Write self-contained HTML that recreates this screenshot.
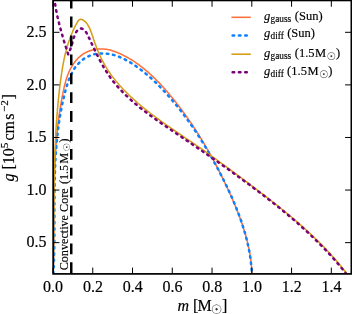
<!DOCTYPE html>
<html><head><meta charset="utf-8"><title>g vs m</title>
<style>html,body{margin:0;padding:0;background:#fff}body{width:352px;height:314px;overflow:hidden}</style></head>
<body>
<svg width="352" height="314" viewBox="0 0 352 314" style="display:block">
<rect width="352" height="314" fill="#fff"/>
<defs><clipPath id="ax"><rect x="53.15" y="0.45" width="298.20" height="273.45"/></clipPath></defs>
<g clip-path="url(#ax)" fill="none" stroke-linejoin="round">
<path d="M53.2 273.8 L53.2 272.5 L53.3 271.1 L53.3 269.8 L53.4 268.5 L53.4 267.1 L53.5 265.8 L53.5 264.4 L53.5 263.1 L53.6 261.8 L53.6 260.4 L53.6 259.1 L53.7 257.8 L53.7 256.4 L53.7 255.1 L53.7 253.8 L53.8 252.4 L53.8 251.1 L53.8 249.8 L53.8 248.4 L53.8 247.1 L53.9 245.8 L53.9 244.4 L53.9 243.1 L53.9 241.8 L53.9 240.4 L53.9 239.1 L53.9 237.8 L53.9 236.4 L53.9 235.1 L54.0 233.8 L54.0 232.5 L54.0 231.1 L54.0 229.8 L54.0 228.5 L54.0 227.1 L54.0 225.8 L54.0 224.5 L54.0 223.2 L54.0 221.8 L54.0 220.5 L54.0 219.2 L54.0 217.8 L54.0 216.5 L54.0 215.2 L54.0 213.9 L54.0 212.5 L54.0 211.2 L54.1 209.9 L54.1 208.6 L54.1 207.2 L54.1 205.9 L54.1 204.6 L54.1 203.3 L54.1 201.9 L54.1 200.6 L54.1 199.3 L54.1 198.0 L54.1 196.6 L54.2 195.3 L54.2 194.0 L54.2 192.7 L54.2 191.3 L54.2 190.0 L54.3 188.7 L54.3 187.4 L54.3 186.0 L54.3 184.7 L54.3 183.4 L54.4 182.1 L54.4 180.8 L54.4 179.4 L54.5 178.1 L54.5 176.8 L54.5 175.5 L54.6 174.1 L54.6 172.8 L54.7 171.5 L54.7 170.2 L54.7 168.9 L54.8 167.5 L54.8 166.2 L54.9 164.9 L55.0 163.6 L55.0 162.2 L55.1 160.9 L55.1 159.6 L55.2 158.3 L55.3 157.0 L55.3 155.6 L55.4 154.3 L55.5 153.0 L55.6 151.7 L55.7 150.4 L55.7 149.0 L55.8 147.7 L55.9 146.4 L56.0 145.1 L56.1 143.8 L56.2 142.4 L56.3 141.1 L56.4 139.8 L56.5 138.5 L56.7 137.1 L56.8 135.8 L56.9 134.5 L57.0 133.2 L57.2 131.9 L57.3 130.5 L57.4 129.2 L57.6 127.9 L57.7 126.6 L57.9 125.3 L58.0 123.9 L58.2 122.6 L58.3 121.3 L58.5 120.0 L58.7 118.7 L58.9 117.3 L59.0 116.0 L59.2 114.7 L59.4 113.4 L59.6 112.1 L59.8 110.7 L60.0 109.4 L60.2 108.1 L60.4 106.8 L60.6 105.5 L60.9 104.1 L61.1 102.8 L61.3 101.5 L61.6 100.2 L61.8 98.8 L62.1 97.5 L62.3 96.2 L62.6 94.9 L62.8 93.6 L63.1 92.2 L63.4 90.9 L63.7 89.6 L63.9 88.3 L64.2 87.0 L64.5 85.6 L64.9 84.3 L65.2 83.0 L65.6 81.7 L65.9 80.4 L66.3 79.1 L66.7 77.8 L67.2 76.6 L67.6 75.3 L68.1 74.1 L68.6 72.8 L69.1 71.6 L69.7 70.4 L70.3 69.1 L70.9 68.0 L71.6 66.8 L72.3 65.6 L73.0 64.5 L73.8 63.4 L74.6 62.3 L75.4 61.3 L76.2 60.3 L77.1 59.3 L78.0 58.3 L78.9 57.4 L79.9 56.6 L80.9 55.7 L81.9 55.0 L82.9 54.2 L84.0 53.5 L85.1 52.9 L86.3 52.3 L87.4 51.8 L88.6 51.3 L89.8 50.8 L91.0 50.4 L92.2 50.1 L93.5 49.8 L94.7 49.5 L96.0 49.3 L97.3 49.1 L98.6 49.0 L99.9 48.9 L101.2 48.9 L102.5 49.0 L103.8 49.0 L105.1 49.2 L106.4 49.3 L107.7 49.6 L108.9 49.8 L110.2 50.1 L111.5 50.5 L112.8 50.9 L114.1 51.3 L115.3 51.7 L116.6 52.2 L117.8 52.7 L119.1 53.2 L120.3 53.8 L121.5 54.4 L122.7 55.0 L123.9 55.6 L125.1 56.2 L126.3 56.8 L127.5 57.5 L128.7 58.1 L129.8 58.8 L131.0 59.5 L132.1 60.2 L133.2 60.9 L134.3 61.7 L135.4 62.4 L136.5 63.2 L137.6 63.9 L138.7 64.7 L139.8 65.5 L140.8 66.3 L141.9 67.1 L142.9 67.9 L144.0 68.8 L145.0 69.6 L146.0 70.5 L147.1 71.3 L148.1 72.2 L149.1 73.1 L150.0 74.0 L151.0 74.9 L152.0 75.8 L153.0 76.7 L153.9 77.6 L154.9 78.6 L155.9 79.5 L156.8 80.5 L157.7 81.4 L158.7 82.4 L159.6 83.3 L160.5 84.3 L161.4 85.3 L162.3 86.3 L163.2 87.3 L164.1 88.3 L165.0 89.3 L165.9 90.3 L166.8 91.3 L167.6 92.3 L168.5 93.3 L169.4 94.3 L170.2 95.4 L171.1 96.4 L171.9 97.4 L172.8 98.5 L173.6 99.5 L174.5 100.5 L175.3 101.6 L176.1 102.6 L176.9 103.7 L177.8 104.7 L178.6 105.8 L179.4 106.8 L180.2 107.9 L181.0 108.9 L181.8 110.0 L182.6 111.1 L183.3 112.1 L184.1 113.2 L184.9 114.3 L185.7 115.4 L186.5 116.4 L187.2 117.5 L188.0 118.6 L188.7 119.7 L189.5 120.8 L190.2 121.9 L191.0 123.0 L191.7 124.1 L192.5 125.1 L193.2 126.2 L193.9 127.4 L194.7 128.5 L195.4 129.6 L196.1 130.7 L196.8 131.8 L197.5 132.9 L198.2 134.0 L198.9 135.1 L199.6 136.3 L200.3 137.4 L201.0 138.5 L201.7 139.6 L202.4 140.8 L203.1 141.9 L203.8 143.0 L204.4 144.2 L205.1 145.3 L205.8 146.5 L206.4 147.6 L207.1 148.8 L207.8 149.9 L208.4 151.1 L209.1 152.2 L209.7 153.4 L210.4 154.5 L211.0 155.7 L211.6 156.8 L212.3 158.0 L212.9 159.2 L213.5 160.3 L214.2 161.5 L214.8 162.7 L215.4 163.8 L216.0 165.0 L216.6 166.2 L217.2 167.4 L217.9 168.5 L218.5 169.7 L219.1 170.9 L219.7 172.1 L220.3 173.3 L220.8 174.5 L221.4 175.7 L222.0 176.9 L222.6 178.1 L223.2 179.3 L223.8 180.4 L224.3 181.6 L224.9 182.8 L225.5 184.1 L226.1 185.3 L226.6 186.5 L227.2 187.7 L227.8 188.9 L228.3 190.1 L228.9 191.3 L229.4 192.5 L230.0 193.7 L230.5 195.0 L231.1 196.2 L231.6 197.4 L232.2 198.6 L232.7 199.8 L233.2 201.1 L233.7 202.3 L234.3 203.5 L234.8 204.8 L235.3 206.0 L235.8 207.2 L236.3 208.5 L236.8 209.7 L237.3 210.9 L237.8 212.2 L238.3 213.4 L238.8 214.7 L239.2 215.9 L239.7 217.2 L240.2 218.4 L240.6 219.7 L241.1 220.9 L241.5 222.2 L241.9 223.4 L242.4 224.7 L242.8 225.9 L243.2 227.2 L243.6 228.5 L244.0 229.7 L244.4 231.0 L244.8 232.3 L245.2 233.5 L245.5 234.8 L245.9 236.1 L246.2 237.4 L246.6 238.6 L246.9 239.9 L247.2 241.2 L247.5 242.5 L247.9 243.8 L248.1 245.1 L248.4 246.4 L248.7 247.6 L249.0 248.9 L249.2 250.2 L249.5 251.5 L249.7 252.8 L249.9 254.1 L250.1 255.4 L250.4 256.7 L250.5 258.1 L250.7 259.4 L250.9 260.7 L251.0 262.0 L251.2 263.3 L251.3 264.6 L251.4 265.9 L251.6 267.3 L251.6 268.6 L251.7 269.9 L251.8 271.2 L251.9 272.6 L251.9 273.9" stroke="#ff703c" stroke-width="1.55"/>
<path d="M53.4 273.8 L53.5 272.5 L53.5 271.2 L53.6 269.9 L53.7 268.5 L53.7 267.2 L53.8 265.9 L53.8 264.6 L53.9 263.3 L53.9 262.0 L54.0 260.6 L54.0 259.3 L54.0 258.0 L54.1 256.7 L54.1 255.4 L54.1 254.1 L54.2 252.8 L54.2 251.5 L54.2 250.1 L54.2 248.8 L54.3 247.5 L54.3 246.2 L54.3 244.9 L54.3 243.6 L54.3 242.3 L54.4 241.0 L54.4 239.7 L54.4 238.3 L54.4 237.0 L54.4 235.7 L54.4 234.4 L54.4 233.1 L54.4 231.8 L54.4 230.5 L54.4 229.2 L54.4 227.9 L54.4 226.6 L54.4 225.3 L54.4 224.0 L54.4 222.6 L54.4 221.3 L54.4 220.0 L54.4 218.7 L54.4 217.4 L54.4 216.1 L54.4 214.8 L54.4 213.5 L54.4 212.2 L54.4 210.9 L54.4 209.6 L54.4 208.3 L54.4 207.0 L54.4 205.7 L54.4 204.4 L54.4 203.1 L54.4 201.8 L54.5 200.5 L54.5 199.2 L54.5 197.8 L54.5 196.5 L54.5 195.2 L54.5 193.9 L54.5 192.6 L54.5 191.3 L54.5 190.0 L54.5 188.7 L54.6 187.4 L54.6 186.1 L54.6 184.8 L54.6 183.5 L54.6 182.2 L54.7 180.9 L54.7 179.6 L54.7 178.3 L54.8 177.0 L54.8 175.7 L54.8 174.4 L54.9 173.1 L54.9 171.8 L55.0 170.5 L55.0 169.2 L55.1 167.9 L55.1 166.6 L55.2 165.3 L55.2 164.0 L55.3 162.7 L55.3 161.4 L55.4 160.1 L55.5 158.8 L55.5 157.5 L55.6 156.2 L55.7 154.9 L55.8 153.6 L55.9 152.3 L56.0 151.0 L56.1 149.7 L56.2 148.4 L56.3 147.1 L56.4 145.8 L56.5 144.5 L56.6 143.2 L56.7 141.9 L56.8 140.6 L57.0 139.3 L57.1 138.0 L57.2 136.7 L57.4 135.4 L57.5 134.1 L57.7 132.8 L57.8 131.5 L58.0 130.2 L58.1 128.9 L58.3 127.6 L58.5 126.3 L58.6 125.1 L58.8 123.8 L59.0 122.5 L59.2 121.2 L59.4 119.9 L59.6 118.6 L59.8 117.3 L60.0 116.0 L60.3 114.7 L60.5 113.4 L60.7 112.1 L61.0 110.8 L61.2 109.5 L61.5 108.2 L61.7 106.9 L62.0 105.6 L62.2 104.3 L62.5 103.0 L62.8 101.7 L63.1 100.4 L63.4 99.1 L63.7 97.8 L64.0 96.5 L64.3 95.2 L64.6 93.9 L65.0 92.6 L65.3 91.3 L65.6 90.0 L66.0 88.7 L66.4 87.5 L66.7 86.2 L67.1 84.9 L67.5 83.6 L67.9 82.3 L68.4 81.1 L68.8 79.8 L69.3 78.6 L69.8 77.4 L70.3 76.2 L70.8 75.0 L71.4 73.8 L72.0 72.7 L72.6 71.5 L73.2 70.4 L73.9 69.3 L74.6 68.3 L75.3 67.2 L76.1 66.2 L76.9 65.2 L77.7 64.3 L78.6 63.4 L79.5 62.5 L80.4 61.6 L81.4 60.8 L82.3 60.0 L83.4 59.2 L84.4 58.5 L85.5 57.8 L86.6 57.2 L87.7 56.6 L88.9 56.1 L90.1 55.6 L91.3 55.2 L92.5 54.8 L93.7 54.4 L94.9 54.1 L96.2 53.9 L97.4 53.7 L98.7 53.6 L100.0 53.5 L101.3 53.4 L102.6 53.4 L103.9 53.4 L105.2 53.5 L106.5 53.6 L107.8 53.8 L109.1 54.0 L110.4 54.2 L111.7 54.5 L113.0 54.8 L114.3 55.1 L115.5 55.5 L116.8 55.9 L118.0 56.4 L119.3 56.8 L120.5 57.4 L121.7 57.9 L122.9 58.4 L124.1 59.0 L125.3 59.6 L126.4 60.3 L127.6 60.9 L128.7 61.6 L129.9 62.2 L131.0 62.9 L132.1 63.6 L133.2 64.4 L134.3 65.1 L135.4 65.8 L136.5 66.6 L137.6 67.3 L138.7 68.1 L139.7 68.9 L140.8 69.7 L141.8 70.5 L142.9 71.3 L143.9 72.1 L144.9 72.9 L145.9 73.8 L146.9 74.6 L147.9 75.5 L148.9 76.3 L149.9 77.2 L150.9 78.1 L151.9 78.9 L152.8 79.8 L153.8 80.7 L154.7 81.6 L155.7 82.5 L156.6 83.4 L157.5 84.4 L158.5 85.3 L159.4 86.2 L160.3 87.1 L161.2 88.1 L162.1 89.0 L163.0 90.0 L163.9 90.9 L164.8 91.9 L165.7 92.8 L166.6 93.8 L167.4 94.8 L168.3 95.8 L169.2 96.7 L170.0 97.7 L170.9 98.7 L171.7 99.7 L172.6 100.7 L173.4 101.7 L174.2 102.7 L175.1 103.7 L175.9 104.7 L176.7 105.7 L177.6 106.7 L178.4 107.7 L179.2 108.7 L180.0 109.8 L180.8 110.8 L181.6 111.8 L182.4 112.8 L183.2 113.9 L184.0 114.9 L184.7 116.0 L185.5 117.0 L186.3 118.1 L187.1 119.1 L187.8 120.2 L188.6 121.2 L189.3 122.3 L190.1 123.3 L190.8 124.4 L191.6 125.5 L192.3 126.5 L193.1 127.6 L193.8 128.7 L194.5 129.8 L195.3 130.9 L196.0 131.9 L196.7 133.0 L197.4 134.1 L198.1 135.2 L198.8 136.3 L199.5 137.4 L200.2 138.5 L200.9 139.6 L201.6 140.7 L202.3 141.8 L203.0 142.9 L203.7 144.1 L204.4 145.2 L205.0 146.3 L205.7 147.4 L206.4 148.5 L207.1 149.7 L207.7 150.8 L208.4 151.9 L209.0 153.0 L209.7 154.2 L210.4 155.3 L211.0 156.5 L211.7 157.6 L212.3 158.7 L212.9 159.9 L213.6 161.0 L214.2 162.2 L214.8 163.3 L215.5 164.5 L216.1 165.6 L216.7 166.8 L217.3 167.9 L218.0 169.1 L218.6 170.3 L219.2 171.4 L219.8 172.6 L220.4 173.7 L221.0 174.9 L221.6 176.1 L222.2 177.2 L222.8 178.4 L223.4 179.6 L224.0 180.8 L224.6 181.9 L225.2 183.1 L225.7 184.3 L226.3 185.5 L226.9 186.7 L227.5 187.8 L228.0 189.0 L228.6 190.2 L229.1 191.4 L229.7 192.6 L230.2 193.8 L230.8 195.0 L231.3 196.2 L231.8 197.4 L232.4 198.6 L232.9 199.8 L233.4 201.0 L233.9 202.2 L234.4 203.4 L234.9 204.6 L235.4 205.8 L235.9 207.0 L236.4 208.2 L236.9 209.5 L237.4 210.7 L237.9 211.9 L238.3 213.1 L238.8 214.3 L239.2 215.6 L239.7 216.8 L240.1 218.0 L240.6 219.2 L241.0 220.5 L241.4 221.7 L241.8 222.9 L242.2 224.2 L242.6 225.4 L243.0 226.7 L243.4 227.9 L243.8 229.2 L244.2 230.4 L244.5 231.6 L244.9 232.9 L245.2 234.1 L245.6 235.4 L245.9 236.7 L246.3 237.9 L246.6 239.2 L246.9 240.4 L247.2 241.7 L247.5 243.0 L247.8 244.2 L248.1 245.5 L248.3 246.8 L248.6 248.0 L248.8 249.3 L249.1 250.6 L249.3 251.9 L249.6 253.2 L249.8 254.4 L250.0 255.7 L250.2 257.0 L250.4 258.3 L250.6 259.6 L250.7 260.9 L250.9 262.2 L251.0 263.5 L251.2 264.8 L251.3 266.1 L251.4 267.4 L251.6 268.7 L251.7 270.0 L251.7 271.3 L251.8 272.6 L251.9 273.9" stroke="#0f80ff" stroke-width="2.5" stroke-linecap="round" stroke-dasharray="1.6 4.7"/>
<path d="M53.2 273.8 L53.2 272.2 L53.3 270.6 L53.3 269.0 L53.3 267.4 L53.3 265.8 L53.3 264.2 L53.4 262.6 L53.4 261.0 L53.4 259.4 L53.4 257.8 L53.4 256.2 L53.5 254.6 L53.5 253.0 L53.5 251.4 L53.5 249.8 L53.5 248.2 L53.5 246.7 L53.5 245.1 L53.6 243.5 L53.6 241.9 L53.6 240.3 L53.6 238.7 L53.6 237.1 L53.6 235.5 L53.6 233.9 L53.6 232.3 L53.6 230.7 L53.6 229.2 L53.6 227.6 L53.7 226.0 L53.7 224.4 L53.7 222.8 L53.7 221.2 L53.7 219.6 L53.7 218.0 L53.7 216.4 L53.7 214.9 L53.7 213.3 L53.7 211.7 L53.8 210.1 L53.8 208.5 L53.8 206.9 L53.8 205.3 L53.8 203.8 L53.8 202.2 L53.8 200.6 L53.9 199.0 L53.9 197.4 L53.9 195.8 L53.9 194.3 L53.9 192.7 L53.9 191.1 L54.0 189.5 L54.0 187.9 L54.0 186.3 L54.0 184.8 L54.1 183.2 L54.1 181.6 L54.1 180.0 L54.1 178.4 L54.2 176.8 L54.2 175.3 L54.2 173.7 L54.3 172.1 L54.3 170.5 L54.4 168.9 L54.4 167.4 L54.4 165.8 L54.5 164.2 L54.5 162.6 L54.6 161.0 L54.6 159.4 L54.7 157.9 L54.7 156.3 L54.8 154.7 L54.9 153.1 L54.9 151.5 L55.0 150.0 L55.0 148.4 L55.1 146.8 L55.2 145.2 L55.3 143.6 L55.3 142.0 L55.4 140.5 L55.5 138.9 L55.6 137.3 L55.7 135.7 L55.7 134.1 L55.8 132.5 L55.9 131.0 L56.0 129.4 L56.1 127.8 L56.2 126.2 L56.3 124.6 L56.4 123.0 L56.5 121.5 L56.7 119.9 L56.8 118.3 L56.9 116.7 L57.0 115.1 L57.1 113.5 L57.3 111.9 L57.4 110.4 L57.5 108.8 L57.7 107.2 L57.8 105.6 L58.0 104.0 L58.1 102.4 L58.3 100.8 L58.4 99.3 L58.6 97.7 L58.8 96.1 L58.9 94.5 L59.1 92.9 L59.3 91.3 L59.5 89.7 L59.6 88.1 L59.8 86.5 L60.0 84.9 L60.2 83.4 L60.4 81.8 L60.6 80.2 L60.9 78.6 L61.1 77.0 L61.3 75.4 L61.5 73.8 L61.8 72.2 L62.0 70.7 L62.3 69.1 L62.5 67.5 L62.8 65.9 L63.1 64.3 L63.4 62.8 L63.7 61.2 L64.0 59.6 L64.3 58.1 L64.7 56.5 L65.0 55.0 L65.4 53.4 L65.8 51.9 L66.2 50.4 L66.6 48.9 L67.0 47.3 L67.4 45.8 L67.9 44.3 L68.4 42.8 L68.9 41.3 L69.4 39.9 L69.9 38.4 L70.4 36.9 L71.0 35.5 L71.6 34.0 L72.2 32.6 L72.8 31.1 L73.5 29.7 L74.1 28.3 L74.8 26.9 L75.5 25.5 L76.3 24.2 L77.0 22.8 L77.8 21.5 L78.6 20.3 L79.6 19.5 L80.7 19.2 L81.9 19.5 L83.2 20.1 L84.5 21.1 L85.6 22.1 L86.7 23.3 L87.6 24.6 L88.4 26.0 L89.2 27.4 L89.9 28.9 L90.5 30.4 L91.1 32.0 L91.7 33.6 L92.2 35.2 L92.8 36.8 L93.3 38.4 L93.8 40.0 L94.4 41.6 L94.9 43.1 L95.5 44.6 L96.1 46.2 L96.6 47.7 L97.2 49.2 L97.8 50.7 L98.4 52.2 L99.1 53.6 L99.7 55.1 L100.4 56.5 L101.0 57.9 L101.7 59.3 L102.4 60.7 L103.2 62.1 L103.9 63.5 L104.7 64.9 L105.4 66.2 L106.3 67.6 L107.1 68.9 L107.9 70.2 L108.8 71.5 L109.7 72.8 L110.6 74.1 L111.5 75.4 L112.4 76.6 L113.4 77.9 L114.4 79.1 L115.4 80.4 L116.4 81.6 L117.4 82.8 L118.4 84.0 L119.5 85.2 L120.5 86.4 L121.6 87.5 L122.7 88.7 L123.8 89.9 L124.9 91.0 L126.0 92.1 L127.2 93.3 L128.3 94.4 L129.4 95.5 L130.6 96.6 L131.8 97.7 L133.0 98.7 L134.2 99.8 L135.4 100.9 L136.6 101.9 L137.8 103.0 L139.0 104.0 L140.2 105.0 L141.4 106.1 L142.7 107.1 L143.9 108.1 L145.1 109.1 L146.4 110.1 L147.6 111.1 L148.9 112.0 L150.1 113.0 L151.4 114.0 L152.7 115.0 L153.9 115.9 L155.2 116.9 L156.5 117.8 L157.8 118.7 L159.1 119.7 L160.3 120.6 L161.6 121.5 L162.9 122.5 L164.2 123.4 L165.5 124.3 L166.8 125.2 L168.1 126.1 L169.4 127.0 L170.7 127.9 L172.0 128.8 L173.3 129.7 L174.6 130.6 L175.9 131.5 L177.3 132.4 L178.6 133.3 L179.9 134.2 L181.2 135.1 L182.5 136.0 L183.8 136.9 L185.1 137.8 L186.4 138.7 L187.8 139.6 L189.1 140.4 L190.4 141.3 L191.7 142.2 L193.0 143.1 L194.3 144.0 L195.6 144.9 L196.9 145.8 L198.2 146.7 L199.6 147.6 L200.9 148.5 L202.2 149.4 L203.5 150.3 L204.8 151.2 L206.1 152.1 L207.4 153.1 L208.6 154.0 L209.9 154.9 L211.2 155.8 L212.5 156.7 L213.8 157.7 L215.1 158.6 L216.4 159.5 L217.7 160.5 L218.9 161.4 L220.2 162.3 L221.5 163.3 L222.8 164.2 L224.1 165.1 L225.3 166.1 L226.6 167.0 L227.9 168.0 L229.2 168.9 L230.5 169.9 L231.7 170.8 L233.0 171.8 L234.3 172.7 L235.6 173.7 L236.8 174.6 L238.1 175.6 L239.4 176.5 L240.7 177.5 L241.9 178.4 L243.2 179.4 L244.5 180.3 L245.8 181.3 L247.0 182.2 L248.3 183.2 L249.6 184.1 L250.8 185.1 L252.1 186.0 L253.4 187.0 L254.7 188.0 L255.9 188.9 L257.2 189.9 L258.5 190.8 L259.7 191.8 L261.0 192.8 L262.3 193.7 L263.5 194.7 L264.8 195.7 L266.1 196.6 L267.3 197.6 L268.6 198.6 L269.8 199.6 L271.1 200.5 L272.3 201.5 L273.6 202.5 L274.8 203.5 L276.1 204.5 L277.3 205.5 L278.6 206.5 L279.8 207.5 L281.0 208.5 L282.3 209.5 L283.5 210.5 L284.7 211.5 L286.0 212.5 L287.2 213.5 L288.4 214.5 L289.6 215.5 L290.9 216.5 L292.1 217.5 L293.3 218.6 L294.5 219.6 L295.7 220.6 L296.9 221.7 L298.1 222.7 L299.3 223.7 L300.5 224.8 L301.7 225.8 L302.9 226.9 L304.0 228.0 L305.2 229.0 L306.4 230.1 L307.6 231.2 L308.7 232.2 L309.9 233.3 L311.0 234.4 L312.2 235.5 L313.3 236.6 L314.5 237.7 L315.6 238.8 L316.8 239.9 L317.9 241.0 L319.0 242.1 L320.1 243.2 L321.2 244.3 L322.4 245.5 L323.5 246.6 L324.6 247.7 L325.7 248.9 L326.8 250.0 L327.8 251.2 L328.9 252.4 L330.0 253.5 L331.1 254.7 L332.1 255.9 L333.2 257.1 L334.2 258.2 L335.3 259.4 L336.3 260.6 L337.4 261.9 L338.4 263.1 L339.4 264.3 L340.4 265.5 L341.4 266.7 L342.4 268.0 L343.4 269.2 L344.4 270.5 L345.4 271.7 L346.4 273.0" stroke="#d69e18" stroke-width="1.55"/>
<path d="M54.2 -2.2 L54.3 -1.2 L54.5 -0.2 L54.6 0.7 L54.7 1.7 L54.9 2.7 L55.0 3.7 L55.2 4.7 L55.3 5.6 L55.5 6.6 L55.7 7.6 L55.9 8.6 L56.0 9.5 L56.2 10.5 L56.4 11.5 L56.6 12.4 L56.8 13.4 L57.0 14.4 L57.2 15.3 L57.4 16.3 L57.6 17.3 L57.9 18.2 L58.1 19.2 L58.3 20.1 L58.5 21.1 L58.8 22.1 L59.0 23.0 L59.2 24.0 L59.5 24.9 L59.7 25.9 L60.0 26.9 L60.2 27.8 L60.5 28.8 L60.7 29.7 L61.0 30.7 L61.3 31.6 L61.5 32.6 L61.8 33.5 L62.1 34.5 L62.4 35.4 L62.6 36.4 L62.9 37.3 L63.2 38.3 L63.5 39.2 L63.8 40.2 L64.0 41.1 L64.3 42.1 L64.6 43.0 L64.9 43.9 L65.2 44.9 L65.5 45.8 L65.8 46.8 L66.1 47.7 L66.4 48.7 L66.7 49.6 L67.0 50.5 L67.3 51.5 L67.6 52.4 L67.9 53.4 L68.2 54.3 L68.6 53.4 L69.0 52.5 L69.4 51.6 L69.7 50.7 L70.1 49.9 L70.4 49.0 L70.7 48.1 L71.0 47.2 L71.3 46.2 L71.6 45.3 L71.9 44.3 L72.2 43.3 L72.5 42.2 L72.8 41.2 L73.1 40.1 L73.4 39.0 L73.7 37.9 L74.1 36.9 L74.4 35.8 L74.8 34.8 L75.2 33.9 L75.7 32.9 L76.2 32.1 L76.7 31.3 L77.3 30.6 L77.9 30.0 L78.6 29.4 L79.3 29.0 L80.0 28.7 L80.7 28.6 L81.4 28.6 L82.1 28.7 L82.8 29.0 L83.5 29.3 L84.2 29.8 L84.8 30.4 L85.4 31.1 L85.9 31.9 L86.4 32.7 L86.9 33.5 L87.4 34.5 L87.8 35.4 L88.2 36.3 L88.7 37.2 L89.1 38.2 L89.6 39.1 L90.0 40.0 L90.4 41.0 L90.9 41.9 L91.3 42.8 L91.8 43.8 L92.2 44.7 L92.6 45.6 L93.1 46.5 L93.5 47.5 L94.0 48.4 L94.4 49.3 L94.8 50.2 L95.3 51.2 L95.7 52.1 L96.2 53.0 L96.6 53.9 L97.1 54.8 L97.5 55.7 L98.0 56.6 L98.4 57.5 L98.9 58.4 L99.4 59.3 L99.8 60.2 L100.3 61.1 L100.8 62.0 L101.3 62.9 L101.8 63.8 L102.2 64.6 L102.7 65.5 L103.2 66.4 L103.7 67.3 L104.2 68.1 L104.8 69.0 L105.3 69.8 L105.8 70.7 L106.3 71.5 L106.9 72.3 L107.4 73.2 L107.9 74.0 L108.5 74.8 L109.0 75.6 L109.6 76.4 L110.2 77.3 L110.8 78.1 L111.3 78.8 L111.9 79.6 L112.5 80.4 L113.1 81.2 L113.7 82.0 L114.4 82.7 L115.0 83.5 L115.6 84.2 L116.2 85.0 L116.9 85.7 L117.5 86.5 L118.2 87.2 L118.8 88.0 L119.5 88.7 L120.1 89.4 L120.8 90.1 L121.5 90.8 L122.2 91.5 L122.8 92.3 L123.5 93.0 L124.2 93.7 L124.9 94.3 L125.6 95.0 L126.3 95.7 L127.1 96.4 L127.8 97.1 L128.5 97.7 L129.2 98.4 L129.9 99.1 L130.7 99.7 L131.4 100.4 L132.2 101.1 L132.9 101.7 L133.6 102.4 L134.4 103.0 L135.2 103.6 L135.9 104.3 L136.7 104.9 L137.4 105.6 L138.2 106.2 L139.0 106.8 L139.8 107.4 L140.5 108.1 L141.3 108.7 L142.1 109.3 L142.9 109.9 L143.7 110.5 L144.5 111.1 L145.3 111.7 L146.1 112.3 L146.9 112.9 L147.7 113.5 L148.5 114.1 L149.3 114.7 L150.1 115.3 L150.9 115.9 L151.7 116.5 L152.5 117.1 L153.3 117.7 L154.1 118.2 L155.0 118.8 L155.8 119.4 L156.6 120.0 L157.4 120.5 L158.2 121.1 L159.1 121.7 L159.9 122.3 L160.7 122.8 L161.5 123.4 L162.4 124.0 L163.2 124.5 L164.0 125.1 L164.9 125.7 L165.7 126.2 L166.5 126.8 L167.4 127.4 L168.2 127.9 L169.0 128.5 L169.9 129.1 L170.7 129.6 L171.5 130.2 L172.3 130.7 L173.2 131.3 L174.0 131.9 L174.8 132.4 L175.7 133.0 L176.5 133.6 L177.3 134.1 L178.2 134.7 L179.0 135.2 L179.8 135.8 L180.7 136.4 L181.5 136.9 L182.3 137.5 L183.1 138.0 L184.0 138.6 L184.8 139.2 L185.6 139.7 L186.4 140.3 L187.3 140.8 L188.1 141.4 L188.9 142.0 L189.7 142.5 L190.6 143.1 L191.4 143.6 L192.2 144.2 L193.0 144.8 L193.8 145.3 L194.7 145.9 L195.5 146.4 L196.3 147.0 L197.1 147.6 L197.9 148.1 L198.8 148.7 L199.6 149.3 L200.4 149.8 L201.2 150.4 L202.0 150.9 L202.9 151.5 L203.7 152.1 L204.5 152.6 L205.3 153.2 L206.1 153.8 L206.9 154.3 L207.7 154.9 L208.6 155.5 L209.4 156.0 L210.2 156.6 L211.0 157.2 L211.8 157.7 L212.6 158.3 L213.4 158.9 L214.2 159.4 L215.1 160.0 L215.9 160.6 L216.7 161.1 L217.5 161.7 L218.3 162.3 L219.1 162.8 L219.9 163.4 L220.7 164.0 L221.5 164.6 L222.3 165.1 L223.1 165.7 L224.0 166.3 L224.8 166.9 L225.6 167.4 L226.4 168.0 L227.2 168.6 L228.0 169.1 L228.8 169.7 L229.6 170.3 L230.4 170.9 L231.2 171.5 L232.0 172.0 L232.8 172.6 L233.6 173.2 L234.4 173.8 L235.2 174.4 L236.0 174.9 L236.8 175.5 L237.6 176.1 L238.4 176.7 L239.2 177.3 L240.0 177.8 L240.8 178.4 L241.6 179.0 L242.4 179.6 L243.2 180.2 L244.0 180.8 L244.8 181.4 L245.6 182.0 L246.4 182.5 L247.2 183.1 L248.0 183.7 L248.8 184.3 L249.6 184.9 L250.4 185.5 L251.2 186.1 L252.0 186.7 L252.8 187.3 L253.6 187.9 L254.4 188.5 L255.2 189.1 L256.0 189.7 L256.8 190.3 L257.6 190.9 L258.4 191.5 L259.2 192.1 L260.0 192.7 L260.8 193.3 L261.6 193.9 L262.4 194.5 L263.2 195.1 L264.0 195.7 L264.7 196.3 L265.5 196.9 L266.3 197.5 L267.1 198.1 L267.9 198.8 L268.7 199.4 L269.5 200.0 L270.3 200.6 L271.0 201.2 L271.8 201.8 L272.6 202.4 L273.4 203.1 L274.2 203.7 L275.0 204.3 L275.7 204.9 L276.5 205.6 L277.3 206.2 L278.1 206.8 L278.9 207.4 L279.6 208.1 L280.4 208.7 L281.2 209.3 L282.0 210.0 L282.7 210.6 L283.5 211.2 L284.3 211.9 L285.0 212.5 L285.8 213.1 L286.6 213.8 L287.3 214.4 L288.1 215.0 L288.9 215.7 L289.6 216.3 L290.4 217.0 L291.2 217.6 L291.9 218.3 L292.7 218.9 L293.4 219.6 L294.2 220.2 L294.9 220.9 L295.7 221.5 L296.5 222.2 L297.2 222.8 L298.0 223.5 L298.7 224.2 L299.5 224.8 L300.2 225.5 L300.9 226.2 L301.7 226.8 L302.4 227.5 L303.2 228.2 L303.9 228.8 L304.6 229.5 L305.4 230.2 L306.1 230.8 L306.8 231.5 L307.6 232.2 L308.3 232.9 L309.0 233.6 L309.8 234.2 L310.5 234.9 L311.2 235.6 L311.9 236.3 L312.6 237.0 L313.4 237.7 L314.1 238.4 L314.8 239.1 L315.5 239.8 L316.2 240.5 L316.9 241.1 L317.6 241.8 L318.3 242.6 L319.0 243.3 L319.7 244.0 L320.4 244.7 L321.1 245.4 L321.8 246.1 L322.5 246.8 L323.2 247.5 L323.9 248.2 L324.6 248.9 L325.3 249.7 L326.0 250.4 L326.7 251.1 L327.3 251.8 L328.0 252.6 L328.7 253.3 L329.4 254.0 L330.0 254.8 L330.7 255.5 L331.4 256.2 L332.0 257.0 L332.7 257.7 L333.4 258.4 L334.0 259.2 L334.7 259.9 L335.3 260.7 L336.0 261.4 L336.6 262.2 L337.3 262.9 L337.9 263.7 L338.6 264.4 L339.2 265.2 L339.9 266.0 L340.5 266.7 L341.1 267.5 L341.8 268.3 L342.4 269.0 L343.0 269.8 L343.6 270.6 L344.3 271.4 L344.9 272.1 L345.5 272.9 L346.1 273.7" stroke="#7a007a" stroke-width="2.5" stroke-linecap="round" stroke-dasharray="1.6 4.7"/>
<line x1="71.25" y1="273.2" x2="71.25" y2="-5" stroke="#000" stroke-width="2.5" stroke-dasharray="10.9 8.0"/>
</g>
<path d="M53.00 273.9 v-6.3 M53.00 0.45 v6.3 M92.76 273.9 v-6.3 M92.76 0.45 v6.3 M132.52 273.9 v-6.3 M132.52 0.45 v6.3 M172.28 273.9 v-6.3 M172.28 0.45 v6.3 M212.04 273.9 v-6.3 M212.04 0.45 v6.3 M251.80 273.9 v-6.3 M251.80 0.45 v6.3 M291.56 273.9 v-6.3 M291.56 0.45 v6.3 M331.32 273.9 v-6.3 M331.32 0.45 v6.3 M53.15 242.65 h6.3 M351.35 242.65 h-6.3 M53.15 190.06 h6.3 M351.35 190.06 h-6.3 M53.15 137.47 h6.3 M351.35 137.47 h-6.3 M53.15 84.89 h6.3 M351.35 84.89 h-6.3 M53.15 32.30 h6.3 M351.35 32.30 h-6.3" stroke="#000" stroke-width="1" fill="none"/>
<rect x="53.15" y="0.45" width="298.20" height="273.45" fill="none" stroke="#000" stroke-width="1.7"/>
<g font-family="Liberation Serif, DejaVu Serif, serif" font-size="16" fill="#000" stroke="#000" stroke-width="0.18">
<text x="53.1" y="291.8" text-anchor="middle">0.0</text>
<text x="92.9" y="291.8" text-anchor="middle">0.2</text>
<text x="132.7" y="291.8" text-anchor="middle">0.4</text>
<text x="172.4" y="291.8" text-anchor="middle">0.6</text>
<text x="212.2" y="291.8" text-anchor="middle">0.8</text>
<text x="252.0" y="291.8" text-anchor="middle">1.0</text>
<text x="291.7" y="291.8" text-anchor="middle">1.2</text>
<text x="331.5" y="291.8" text-anchor="middle">1.4</text>
<text x="46.6" y="247.2" text-anchor="end">0.5</text>
<text x="46.6" y="194.7" text-anchor="end">1.0</text>
<text x="46.6" y="142.1" text-anchor="end">1.5</text>
<text x="46.6" y="89.5" text-anchor="end">2.0</text>
<text x="46.6" y="36.9" text-anchor="end">2.5</text>
<text x="177.6" y="310.5" font-style="italic">m</text>
<text x="193.0" y="310.5">[</text>
<text x="197.4" y="310.5">M</text>
<text x="216.7" y="314.0" font-family="DejaVu Sans, sans-serif" font-size="13" text-anchor="middle" stroke="none" fill-opacity="0.85">&#9737;</text>
<text x="222.0" y="310.5">]</text>
<text transform="translate(14.2 181.5) rotate(-90)"><tspan font-style="italic">g</tspan> [10<tspan font-size="11.2" dy="-6">5</tspan><tspan dy="6" dx="2">cm</tspan><tspan dx="1.3">s</tspan><tspan font-size="11.2" dy="-6" dx="1.4">&#8722;2</tspan><tspan dy="6" dx="0.8">]</tspan></text>
</g>
<g font-family="Liberation Serif, DejaVu Serif, serif" font-size="12" transform="translate(67.5 270) rotate(-90)" stroke="#000" stroke-width="0.15">
<text x="-0.3" y="0" font-size="12.15">Convective Core</text>
<text x="86.0" y="0">(1.5</text>
<text x="106.6" y="0">M</text>
<text x="123" y="2.9" font-family="DejaVu Sans, sans-serif" font-size="9.5" text-anchor="middle" stroke="none" fill-opacity="0.8">&#9737;</text>
<text x="127.5" y="0">)</text>
</g>
<g stroke="#000" stroke-width="0.15">
<line x1="231.4" x2="250.8" y1="17.3" y2="17.3" stroke="#ff703c" stroke-width="1.55"/>
<text font-family="Liberation Serif, DejaVu Serif, serif" font-size="12.5" font-style="italic" x="263.9" y="20.0">g</text>
<text font-family="Liberation Serif, DejaVu Serif, serif" font-size="9.3" x="270.5" y="21.7">gauss</text>
<text font-family="Liberation Serif, DejaVu Serif, serif" font-size="12.5" x="294.8" y="20.0">(Sun)</text>
<line x1="232.6" x2="250.8" y1="35.5" y2="35.5" stroke="#0f80ff" stroke-width="2.5" stroke-linecap="round" stroke-dasharray="1.6 4.7"/>
<text font-family="Liberation Serif, DejaVu Serif, serif" font-size="12.5" font-style="italic" x="263.9" y="37.3">g</text>
<text font-family="Liberation Serif, DejaVu Serif, serif" font-size="9.3" x="270.5" y="39.0">diff</text>
<text font-family="Liberation Serif, DejaVu Serif, serif" font-size="12.5" x="287.2" y="37.3">(Sun)</text>
<line x1="231.4" x2="250.8" y1="54.2" y2="54.2" stroke="#d69e18" stroke-width="1.55"/>
<text font-family="Liberation Serif, DejaVu Serif, serif" font-size="12.5" font-style="italic" x="263.9" y="57.3">g</text>
<text font-family="Liberation Serif, DejaVu Serif, serif" font-size="9.3" x="270.5" y="59.0">gauss</text>
<text font-family="Liberation Serif, DejaVu Serif, serif" font-size="12.5" x="294.8" y="57.3">(1.5</text>
<text font-family="Liberation Serif, DejaVu Serif, serif" font-size="12.5" x="315.1" y="57.3">M</text>
<text font-family="DejaVu Sans, sans-serif" font-size="10.5" text-anchor="middle" stroke="none" fill-opacity="0.8" x="331.2" y="60.15">&#9737;</text>
<text font-family="Liberation Serif, DejaVu Serif, serif" font-size="12.5" x="335.9" y="57.3">)</text>
<line x1="232.6" x2="250.8" y1="72.2" y2="72.2" stroke="#7a007a" stroke-width="2.5" stroke-linecap="round" stroke-dasharray="1.6 4.7"/>
<text font-family="Liberation Serif, DejaVu Serif, serif" font-size="12.5" font-style="italic" x="263.9" y="75.0">g</text>
<text font-family="Liberation Serif, DejaVu Serif, serif" font-size="9.3" x="270.5" y="76.7">diff</text>
<text font-family="Liberation Serif, DejaVu Serif, serif" font-size="12.5" x="287.1" y="75.0">(1.5</text>
<text font-family="Liberation Serif, DejaVu Serif, serif" font-size="12.5" x="307.4" y="75.0">M</text>
<text font-family="DejaVu Sans, sans-serif" font-size="10.5" text-anchor="middle" stroke="none" fill-opacity="0.8" x="323.6" y="77.85">&#9737;</text>
<text font-family="Liberation Serif, DejaVu Serif, serif" font-size="12.5" x="328.2" y="75.0">)</text>
</g>
</svg>
</body></html>
